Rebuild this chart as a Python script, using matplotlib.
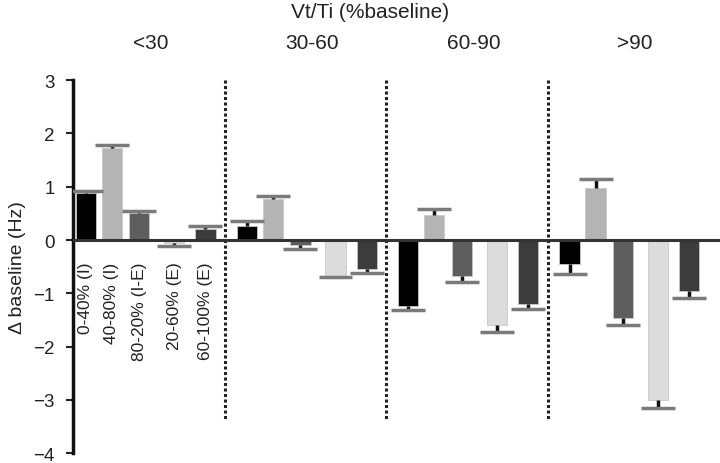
import numpy as np
import matplotlib
matplotlib.use('Agg')
import matplotlib.pyplot as plt

plt.rcParams['font.family'] = ['Liberation Sans', 'DejaVu Sans']

# Vt/Ti bins and respiratory phase windows
groups = ['<30', '30-60', '60-90', '>90']
phases = ['0-40% (I)', '40-80% (I)', '80-20% (I-E)', '20-60% (E)', '60-100% (E)']

# mean change from baseline (Hz), one list per Vt/Ti bin
mean_lt30 = [0.88, 1.72, 0.50, -0.06, 0.20]
mean_30_60 = [0.27, 0.78, -0.10, -0.67, -0.54]
mean_60_90 = [-1.23, 0.48, -0.67, -1.60, -1.19]
mean_gt90 = [-0.45, 0.97, -1.46, -3.00, -0.95]

# SEM
sem_lt30 = [0.04, 0.07, 0.04, 0.05, 0.06]
sem_30_60 = [0.08, 0.05, 0.06, 0.03, 0.07]
sem_60_90 = [0.09, 0.10, 0.11, 0.13, 0.11]
sem_gt90 = [0.18, 0.17, 0.13, 0.15, 0.13]

means = [mean_lt30, mean_30_60, mean_60_90, mean_gt90]
sems = [sem_lt30, sem_30_60, sem_60_90, sem_gt90]

colors = ['#000000', '#b4b4b4', '#5e5e5e', '#dcdcdc', '#3c3c3c']
offsets = [0, 1, 2.05, 3.4, 4.6]
stride = 6.2
first = 0.5
width = 0.78
cap_half = 0.65

fig = plt.figure(figsize=(7.2, 4.64), dpi=100)
ax = fig.add_axes([0.101, 0.021, 0.899, 0.804])

for g in range(len(groups)):
    start = first + stride * g
    for i in range(len(phases)):
        x = start + offsets[i]
        m = means[g][i]
        e = sems[g][i]
        ax.bar(x, m, width=width, color=colors[i], edgecolor='#c8c8c8',
               linewidth=0.6, zorder=2)
        # one-sided error bar, pointing away from zero
        tip = m + e if m >= 0 else m - e
        ax.vlines(x, m, tip, color='#111111', lw=2.5, zorder=3)
        ax.hlines(tip, x - cap_half, x + cap_half, color='#7a7a7a', lw=2.5, zorder=3)
        if g == 0:
            ax.text(x, -0.4, phases[i], rotation=90, ha='center', va='top',
                    fontsize=12.5, color='#222222')
    # group label
    ax.text(start + offsets[-1] / 2 + 0.2, 3.7, groups[g], ha='center', va='center',
            fontsize=15, color='#222222', clip_on=False)
    if g > 0:
        ax.plot([start - 0.85, start - 0.85], [3, -3.4], color='#222222',
                lw=2.2, linestyle=(0, (1, 0.8)), zorder=1)

ax.axhline(0, color='#333333', lw=2.2, zorder=4)

ax.set_xlim(0, 24.88)
ax.set_ylim(-4, 3)
ax.set_yticks(range(-4, 4))
ax.set_yticklabels([str(t).replace('-', '\u2212') for t in range(-4, 4)])
ax.tick_params(axis='y', labelsize=13.5, length=5, width=1.5, direction='out',
               colors='#222222', pad=8)
ax.set_xticks([])
for s in ['top', 'right', 'bottom']:
    ax.spines[s].set_visible(False)
ax.spines['left'].set_linewidth(2.5)
ax.spines['left'].set_color('#111111')
ax.set_ylabel('\u0394 baseline (Hz)', fontsize=14, color='#222222', labelpad=5)

fig.text(0.514, 0.972, 'Vt/Ti (%baseline)', ha='center', va='center',
         fontsize=15, color='#222222')

fig.savefig('out.png', dpi=100)
